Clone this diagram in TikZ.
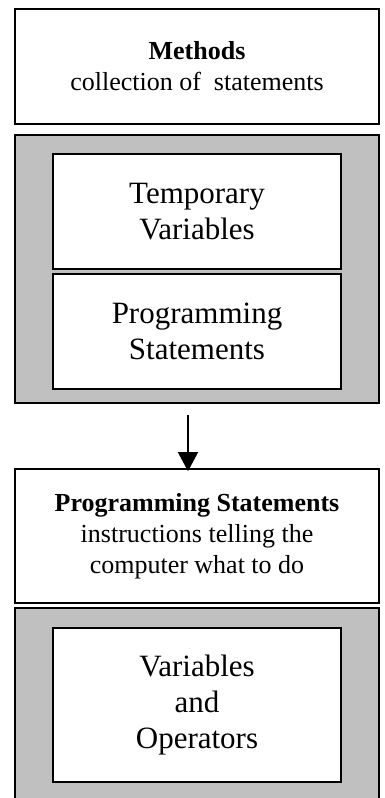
\documentclass[tikz,border=0pt]{standalone}
\usepackage{fontspec}
\setmainfont{Liberation Serif}
\usepackage{xcolor}
\usepackage{tikz}
\usetikzlibrary{arrows.meta}
\definecolor{panelgray}{HTML}{C0C0C0}
\tikzstyle{tsSmall} = [
    text=black,
    font=\fontsize{26}{31}\selectfont
]
\tikzstyle{tsLarge} = [
    text=black,
    font=\fontsize{31}{36}\selectfont
]
\tikzstyle{tsRectangle} = [
    rectangle,
    draw=black,
    line width=1.6pt,
    inner sep=0pt,
    align=center,
    fill=white]
\tikzstyle{tsPanel} = [
    tsRectangle,
    fill=panelgray]

\begin{document}
\begin{tikzpicture}[x=1pt, y=-1pt]

        \clip (0,0) rectangle (385,798);

        % method part
        \node[tsRectangle, tsSmall, minimum width=364pt, minimum height=115pt] (methods) at (197,66.5)
            {\textbf{Methods}\\collection of\ \ statements};
        \node[tsPanel, minimum width=364pt, minimum height=268pt] (panelA) at (197,269) {};
        \node[tsRectangle, tsLarge, minimum width=288pt, minimum height=115pt] (temps) at (197,211.5)
            {Temporary\\Variables};
        \node[tsRectangle, tsLarge, minimum width=288pt, minimum height=115pt] (progs) at (197,331.5)
            {Programming\\Statements};

        % statement part
        \node[tsRectangle, tsSmall, minimum width=364pt, minimum height=134pt] (stmts) at (197,536)
            {\textbf{Programming Statements}\\instructions telling the\\computer what to do};
        \node[tsPanel, minimum width=364pt, minimum height=222pt] (panelB) at (197,719) {};
        \node[tsRectangle, tsLarge, minimum width=288pt, minimum height=154pt] (varops) at (197,705)
            {Variables\\and\\Operators};

        \draw[-{Triangle[length=19pt,width=20pt]}, line width=1.3pt, shorten <=11pt, shorten >=-3pt]
            ([xshift=-9pt]panelA.south) -- ([xshift=-9pt]stmts.north);

\end{tikzpicture}
\end{document}
